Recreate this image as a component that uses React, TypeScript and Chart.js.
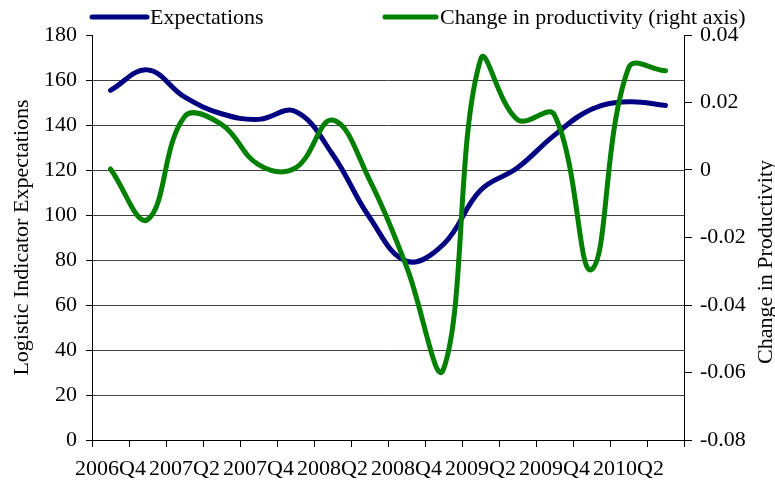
import React, { useEffect, useRef } from "react";
import { Chart, registerables } from "chart.js";

Chart.register(...registerables);

const categories = [
  "2006Q4", "2007Q1", "2007Q2", "2007Q3", "2007Q4", "2008Q1", "2008Q2", "2008Q3",
  "2008Q4", "2009Q1", "2009Q2", "2009Q3", "2009Q4", "2010Q1", "2010Q2", "2010Q3",
];
const expectations = [155.4, 164.5, 152.5, 145, 142.5, 146, 127, 99, 79.5, 87, 111, 121, 135.5, 147, 150.3, 148.7];
const productivity = [0.0003, -0.0147, 0.0158, 0.0135, 0.0016, 0.0006, 0.0148, -0.0029, -0.0286, -0.059, 0.0327, 0.0149, 0.0163, -0.0295, 0.0302, 0.0294];
const leftTicks = [0, 20, 40, 60, 80, 100, 120, 140, 160, 180];
const rightTicks = [-0.08, -0.06, -0.04, -0.02, 0, 0.02, 0.04];

const seriesNames = ["Expectations", "Change in productivity (right axis)"];
const leftTitle = "Logistic Indicator Expectations";
const rightTitle = "Change in Productivity";

const BLUE = "#000080";
const GREEN = "#008000";
const FONT = "'Liberation Serif', 'Times New Roman', serif";

const decorations = {
  id: "decorations",
  afterDraw(chart: any) {
    const ctx = chart.ctx;
    ctx.save();
    ctx.font = `22px ${FONT}`;
    ctx.fillStyle = "#000";
    ctx.textBaseline = "middle";
    ctx.lineWidth = 5;
    ctx.lineCap = "round";
    const items = [
      { color: BLUE, x0: 92, x1: 147, tx: 150, text: seriesNames[0] },
      { color: GREEN, x0: 385, x1: 436, tx: 440, text: seriesNames[1] },
    ];
    items.forEach((it) => {
      ctx.strokeStyle = it.color;
      ctx.beginPath();
      ctx.moveTo(it.x0, 17);
      ctx.lineTo(it.x1, 17);
      ctx.stroke();
      ctx.textAlign = "left";
      ctx.fillText(it.text, it.tx, 18);
    });
    ctx.translate(766, 262);
    ctx.rotate(-Math.PI / 2);
    ctx.textAlign = "center";
    ctx.fillText(rightTitle, 0, 0);
    ctx.restore();
  },
};

export default function App() {
  const ref = useRef<HTMLCanvasElement | null>(null);

  useEffect(() => {
    if (!ref.current) return;
    const chart = new Chart(ref.current, {
      type: "line",
      data: {
        labels: categories,
        datasets: [
          {
            label: seriesNames[0],
            data: expectations,
            borderColor: BLUE,
            backgroundColor: BLUE,
            borderWidth: 5,
            pointRadius: 0,
            tension: 0.4,
            borderCapStyle: "round",
            borderJoinStyle: "round",
            yAxisID: "y",
            order: 2,
          },
          {
            label: seriesNames[1],
            data: productivity,
            borderColor: GREEN,
            backgroundColor: GREEN,
            borderWidth: 5,
            pointRadius: 0,
            tension: 0.4,
            borderCapStyle: "round",
            borderJoinStyle: "round",
            yAxisID: "y1",
            order: 1,
          },
        ],
      },
      options: {
        animation: false,
        responsive: true,
        maintainAspectRatio: false,
        layout: { padding: { top: 35, left: 0, right: 0, bottom: 0 } },
        plugins: {
          legend: { display: false },
          tooltip: { enabled: false },
        },
        scales: {
          x: {
            type: "category",
            offset: true,
            grid: {
              offset: true,
              drawOnChartArea: false,
              tickLength: 7,
              color: "#000",
            },
            border: { display: true, color: "#000" },
            ticks: {
              autoSkip: false,
              maxRotation: 0,
              minRotation: 0,
              padding: 9,
              color: "#000",
              font: { family: FONT, size: 22 },
              callback: (_v: any, i: number) => (i % 2 === 0 ? categories[i] : ""),
            },
            afterFit: (s: any) => {
              s.height = 45;
            },
          },
          y: {
            position: "left",
            min: leftTicks[0],
            max: leftTicks[leftTicks.length - 1],
            afterBuildTicks: (s: any) => {
              s.ticks = leftTicks.map((v) => ({ value: v }));
            },
            grid: {
              tickLength: 6,
              color: (c: any) =>
                c.tick && (c.tick.value === 180 || c.tick.value === 0) ? "rgba(0,0,0,0)" : "#404040",
              tickColor: "#000",
            },
            border: { display: true, color: "#000" },
            ticks: {
              padding: 9,
              color: "#000",
              font: { family: FONT, size: 22 },
            },
            title: {
              display: true,
              text: leftTitle,
              color: "#000",
              font: { family: FONT, size: 22 },
              padding: { top: 9, bottom: 0 },
            },
            afterFit: (s: any) => {
              s.width = 92;
            },
          },
          y1: {
            position: "right",
            min: rightTicks[0],
            max: rightTicks[rightTicks.length - 1],
            afterBuildTicks: (s: any) => {
              s.ticks = rightTicks.map((v) => ({ value: v }));
            },
            grid: {
              drawOnChartArea: false,
              tickLength: 8,
              color: "#000",
            },
            border: { display: true, color: "#000" },
            ticks: {
              padding: 8,
              color: "#000",
              font: { family: FONT, size: 22 },
              callback: (v: any) => String(Number(Number(v).toFixed(2))),
            },
            afterFit: (s: any) => {
              s.width = 91;
            },
          },
        },
      },
      plugins: [decorations],
    });
    return () => chart.destroy();
  }, []);

  return (
    <div style={{ position: "absolute", left: 0, top: 0, width: 775, height: 485 }}>
      <canvas ref={ref} />
    </div>
  );
}
